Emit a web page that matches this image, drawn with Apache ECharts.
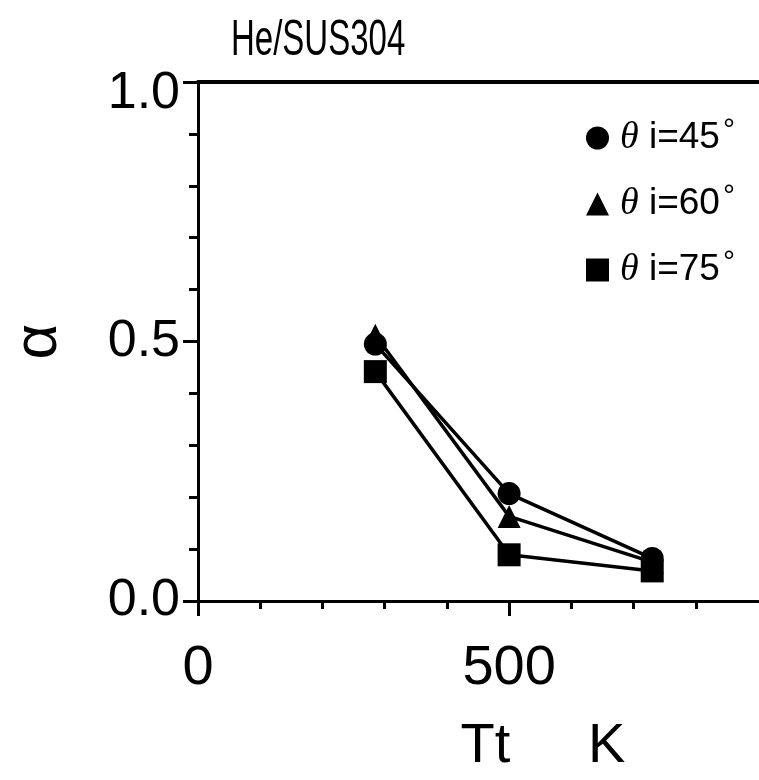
<!DOCTYPE html>
<html>
<head>
<meta charset="utf-8">
<script src="https://cdn.jsdelivr.net/npm/echarts@6/dist/echarts.min.js"></script>
<style>
  html, body { margin: 0; padding: 0; background: #fff; }
  #chart { width: 759px; height: 780px; }
</style>
</head>
<body>
<div id="chart"></div>
<script>
// Surface temperature Tt (K) and accommodation coefficient α, He on SUS304
const tempK = [285, 500, 730];
const alpha45 = [0.495, 0.207, 0.082];
const alpha60 = [0.512, 0.163, 0.075];
const alpha75 = [0.442, 0.089, 0.058];

const seriesNames = ['θ i=45°', 'θ i=60°', 'θ i=75°'];
const titleText = 'He/SUS304';

// Axis tick values
const xMajorTicks = [0, 500];
const xMinorTicks = [100, 200, 300, 400, 600, 700, 800];
const yMajorTicks = [0, 0.5, 1.0];
const yMinorTicks = [0.1, 0.2, 0.3, 0.4, 0.6, 0.7, 0.8, 0.9];

const FONT = '"Liberation Sans", Arial, sans-serif';

function pairs(xs, ys) {
  return xs.map((x, i) => [x, ys[i]]);
}

function lineSeries(name, ys, symbol, size, z) {
  return {
    name: name,
    type: 'line',
    data: pairs(tempK, ys),
    symbol: symbol,
    symbolSize: size,
    z: z,
    itemStyle: { color: '#000' },
    lineStyle: { color: '#000', width: 3.5 },
    emphasis: { disabled: true },
    animation: false
  };
}

const chart = echarts.init(document.getElementById('chart'), null, { renderer: 'canvas' });

chart.setOption({
  backgroundColor: '#fff',
  animation: false,
  // Narrow title lettering above the frame
  graphic: [
    {
      type: 'text',
      x: 231,
      y: 16,
      scaleX: 0.66,
      style: {
        text: titleText,
        fontFamily: FONT,
        fontSize: 50,
        fill: '#000',
        verticalAlign: 'top',
        align: 'left'
      }
    }
  ],
  legend: {
    orient: 'vertical',
    left: 581,
    top: 111,
    itemWidth: 23,
    itemHeight: 23,
    itemGap: 22,
    selectedMode: false,
    data: [
      { name: seriesNames[0], icon: 'circle' },
      { name: seriesNames[1], icon: 'triangle' },
      { name: seriesNames[2], icon: 'rect' }
    ],
    formatter: function (name) {
      const rest = name.replace('θ ', '').replace('°', '');
      return '{th|θ} {n|' + rest + '}{d|°}';
    },
    textStyle: {
      color: '#000',
      fontFamily: FONT,
      fontSize: 37,
      lineHeight: 44,
      rich: {
        th: { fontFamily: '"Liberation Serif", serif', fontStyle: 'italic', fontSize: 38, color: '#000', lineHeight: 44, padding: [0, 0, 0, 6] },
        n: { fontFamily: FONT, fontSize: 37, color: '#000', lineHeight: 44 },
        d: { fontFamily: FONT, fontSize: 30, color: '#000', lineHeight: 44, verticalAlign: 'top', padding: [0, 0, 0, 3] }
      }
    }
  },
  grid: { left: 196, right: 1, top: 82, bottom: 170, containLabel: false },
  xAxis: [
    {
      type: 'value',
      min: 0,
      max: 900,
      position: 'bottom',
      name: 'Tt     K',
      nameLocation: 'middle',
      nameGap: 118,
      nameTextStyle: { fontFamily: FONT, fontSize: 56, color: '#000', padding: [0, 0, 0, 130] },
      axisLine: { show: true, onZero: false, lineStyle: { color: '#000', width: 3 } },
      axisTick: { show: true, inside: false, length: 15, lineStyle: { color: '#000', width: 3 }, customValues: xMajorTicks },
      axisLabel: { show: true, margin: 40, fontFamily: FONT, fontSize: 56, color: '#000', customValues: xMajorTicks },
      splitLine: { show: false }
    },
    {
      type: 'value',
      min: 0,
      max: 900,
      position: 'bottom',
      axisLine: { show: false },
      axisTick: { show: true, inside: false, length: 8, lineStyle: { color: '#000', width: 3 }, customValues: xMinorTicks },
      axisLabel: { show: false },
      splitLine: { show: false }
    },
    {
      type: 'value',
      min: 0,
      max: 900,
      position: 'top',
      axisLine: { show: true, onZero: false, lineStyle: { color: '#000', width: 4 } },
      axisTick: { show: false },
      axisLabel: { show: false },
      splitLine: { show: false }
    }
  ],
  yAxis: [
    {
      type: 'value',
      min: 0,
      max: 1,
      position: 'left',
      name: 'α',
      nameLocation: 'middle',
      nameRotate: 90,
      nameGap: 128,
      nameTextStyle: { fontFamily: FONT, fontSize: 62, color: '#000' },
      axisLine: { show: true, onZero: false, lineStyle: { color: '#000', width: 3 } },
      axisTick: { show: true, inside: false, length: 15, lineStyle: { color: '#000', width: 3 }, customValues: yMajorTicks },
      axisLabel: {
        show: true,
        margin: 18,
        fontFamily: FONT,
        fontSize: 52,
        color: '#000',
        customValues: yMajorTicks,
        formatter: function (v) {
          const s = v.toFixed(1);
          return v === 1 ? '{top|' + s + '}' : s;
        },
        rich: {
          top: { fontFamily: FONT, fontSize: 52, color: '#000', padding: [24, 0, 0, 0] }
        }
      },
      splitLine: { show: false }
    },
    {
      type: 'value',
      min: 0,
      max: 1,
      position: 'left',
      axisLine: { show: false },
      axisTick: { show: true, inside: false, length: 9, lineStyle: { color: '#000', width: 3 }, customValues: yMinorTicks },
      axisLabel: { show: false },
      splitLine: { show: false }
    }
  ],
  series: [
    lineSeries(seriesNames[2], alpha75, 'rect', 23, 2),
    lineSeries(seriesNames[1], alpha60, 'triangle', 23, 3),
    lineSeries(seriesNames[0], alpha45, 'circle', 23, 4)
  ]
});
</script>
</body>
</html>
